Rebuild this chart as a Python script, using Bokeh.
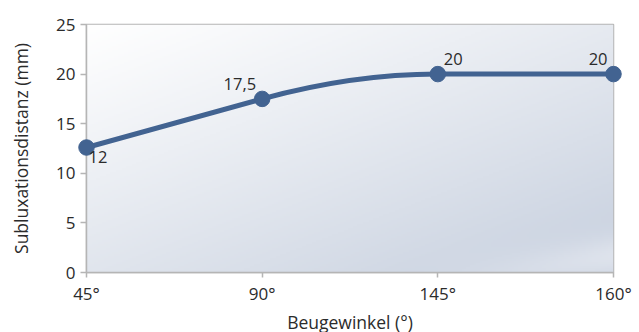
import numpy as np
from bokeh.plotting import figure
from bokeh.models import Range1d, FixedTicker, ColumnDataSource
from bokeh.core.properties import value
from bokeh.embed import file_html
from bokeh.resources import INLINE

# ---- data ----
categories = ["45°", "90°", "145°", "160°"]
values = [12.6, 17.5, 20.0, 20.0]
value_labels = ["12", "17,5", "20", "20"]
y_ticks = [0, 5, 10, 15, 20, 25]

# ---- style ----
FONT = "Open Sans"
LINE_COLOR = "#426391"
GRID_COLOR = "#b5b5b5"
TEXT_COLOR = "#2b2b2b"
label_dx = [2, -6, 6, -6]
label_dy = [3, -9, -9, -9]
label_align = ["left", "right", "left", "right"]
label_base = ["top", "bottom", "bottom", "bottom"]

xs = list(range(len(categories)))

p = figure(width=639, height=332, output_backend="svg", toolbar_location=None,
           x_range=Range1d(0, len(categories) - 1), y_range=Range1d(0, 25),
           min_border_left=86, min_border_right=26, min_border_top=24, min_border_bottom=60,
           frame_width=527, frame_height=248)
p.background_fill_color = "white"
p.border_fill_color = "white"
p.outline_line_color = GRID_COLOR
p.outline_line_width = 1.5

# gradient background
H, W = 124, 264
fy = np.linspace(0, 1, H)[:, None]          # 0 at bottom, 1 at top
fx = np.linspace(0, 1, W)[None, :]
fd = 1 - fy
t = np.clip((fx * 0.9 + fd * 1.1) / 2, 0, 1) ** 1.05
c0 = np.array([255, 255, 255], float)
c1 = np.array([198, 207, 222], float)
rgb = c0[None, None, :] * (1 - t[..., None]) + c1[None, None, :] * t[..., None]
# soft highlight near the bottom-right corner
d = (fd - 0.72) - (1 - fx) * 0.35
hl = np.exp(-((d - 0.22) / 0.09) ** 2) * np.clip((fx - 0.6) / 0.4, 0, 1) * 0.55
rgb = rgb * (1 - hl[..., None]) + np.array([240, 242, 247])[None, None, :] * hl[..., None]
img = np.empty((H, W), dtype=np.uint32)
view = img.view(dtype=np.uint8).reshape((H, W, 4))
view[..., 0] = rgb[..., 0].astype(np.uint8)
view[..., 1] = rgb[..., 1].astype(np.uint8)
view[..., 2] = rgb[..., 2].astype(np.uint8)
view[..., 3] = 255
p.image_rgba(image=[img], x=0, y=0, dw=len(categories) - 1, dh=25)

# axes
p.xaxis.ticker = FixedTicker(ticks=xs)
p.xaxis.major_label_overrides = {i: c for i, c in enumerate(categories)}
p.yaxis.ticker = FixedTicker(ticks=y_ticks)
for ax in (p.xaxis[0], p.yaxis[0]):
    ax.axis_line_color = GRID_COLOR
    ax.axis_line_width = 1.5
    ax.major_tick_line_color = GRID_COLOR
    ax.major_tick_line_width = 1.5
    ax.major_tick_in = 0
    ax.minor_tick_line_color = None
    ax.major_label_text_font = FONT
    ax.major_label_text_font_size = "17px"
    ax.major_label_text_color = TEXT_COLOR
    ax.axis_label_text_font = FONT
    ax.axis_label_text_font_size = "17.5px"
    ax.axis_label_text_font_style = "normal"
    ax.axis_label_text_color = TEXT_COLOR
p.yaxis.major_tick_out = 6
p.xaxis.major_tick_out = 5
p.yaxis.major_label_standoff = 5
p.xaxis.major_label_standoff = 4
p.yaxis.axis_label = "Subluxationsdistanz (mm)"
p.xaxis.axis_label = "Beugewinkel (°)"
p.yaxis.axis_label_standoff = 20
p.xaxis.axis_label_standoff = 2

p.xgrid.ticker = FixedTicker(ticks=xs)
p.ygrid.ticker = FixedTicker(ticks=y_ticks)
p.xgrid.grid_line_color = GRID_COLOR
p.xgrid.grid_line_width = 2
p.ygrid.grid_line_color = GRID_COLOR
p.ygrid.grid_line_width = 1.5

# smoothed line: cubic Hermite segments as Bezier curves
n = len(values)
dseg = [values[i + 1] - values[i] for i in range(n - 1)]
m = [0.0] * n
for i in range(1, n - 1):
    if dseg[i - 1] * dseg[i] > 0:
        m[i] = 0.65 * (dseg[i - 1] + dseg[i])
m[0] = (3 * dseg[0] - m[1]) / 2
m[-1] = 0.0 if dseg[-1] == 0 else (3 * dseg[-1] - m[-2]) / 2
bez = dict(x0=[], y0=[], x1=[], y1=[], cx0=[], cy0=[], cx1=[], cy1=[])
for i in range(n - 1):
    h = xs[i + 1] - xs[i]
    bez["x0"].append(xs[i]); bez["y0"].append(values[i])
    bez["x1"].append(xs[i + 1]); bez["y1"].append(values[i + 1])
    bez["cx0"].append(xs[i] + h / 3); bez["cy0"].append(values[i] + m[i] * h / 3)
    bez["cx1"].append(xs[i + 1] - h / 3); bez["cy1"].append(values[i + 1] - m[i + 1] * h / 3)
r_line = p.bezier(source=ColumnDataSource(bez), x0="x0", y0="y0", x1="x1", y1="y1",
                  cx0="cx0", cy0="cy0", cx1="cx1", cy1="cy1",
                  line_color=LINE_COLOR, line_width=5)

src = ColumnDataSource(dict(x=xs, y=values, lab=value_labels, dx=label_dx, dy=label_dy,
                            al=label_align, bl=label_base))
r_pts = p.scatter("x", "y", source=src, size=15.5, fill_color=LINE_COLOR, line_color=LINE_COLOR)
r_pts.level = "overlay"
r_txt = p.text("x", "y", text="lab", source=src, x_offset="dx", y_offset="dy",
               text_align="al", text_baseline="bl", text_font=value(FONT),
               text_font_size="16.5px", text_color=TEXT_COLOR)
r_txt.level = "overlay"

open("out.html", "w").write(file_html(p, INLINE))
